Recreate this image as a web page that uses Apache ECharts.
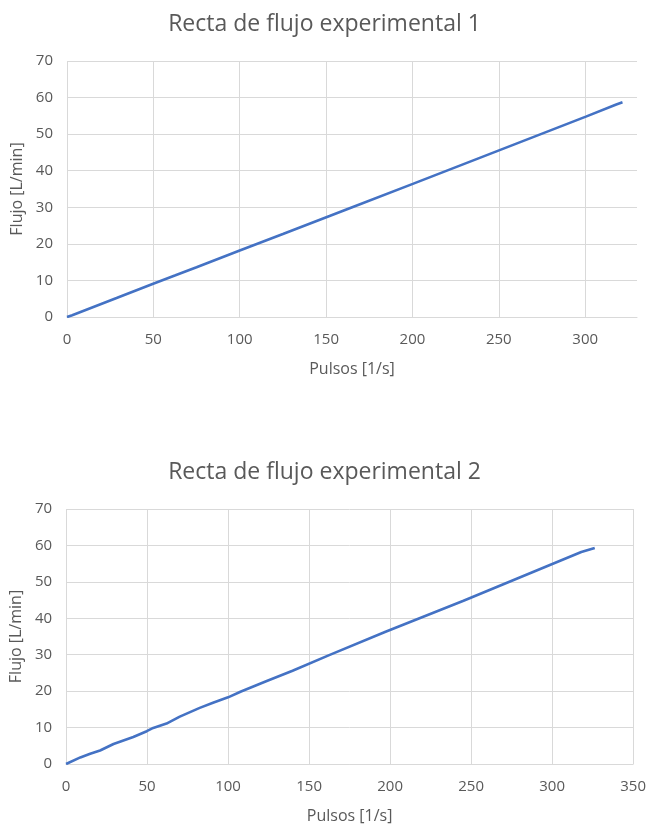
<!DOCTYPE html>
<html><head><meta charset="utf-8">
<script src="https://cdn.jsdelivr.net/npm/echarts@6/dist/echarts.min.js"></script>
<style>html,body{margin:0;padding:0;background:#fff}#c{width:649px;height:825px}</style>
</head><body><div id="c"></div>
<script>
var title1 = "Recta de flujo experimental 1";
var title2 = "Recta de flujo experimental 2";
var xName = "Pulsos [1/s]";
var yName = "Flujo [L/min]";
var pulsos1 = [0, 3, 28.7, 49.9, 62.8, 75, 100, 125, 152, 165.5, 200.2, 244.9, 300.4, 318, 321.6];
var flujo1  = [0, 0.5, 5.2, 9.1, 11.4, 13.6, 18.2, 22.7, 27.6, 30.1, 36.4, 44.6, 54.8, 58.1, 58.7];
var pulsos2 = [0, 8.8, 14.9, 21, 29.3, 41.5, 49.8, 53.8, 62, 70.2, 82.5, 90.7, 100, 108, 123.5, 139.8, 162.4, 197.2, 245.3, 318, 326.3];
var flujo2  = [0, 1.8, 2.8, 3.7, 5.5, 7.4, 9.0, 9.9, 11.1, 13.0, 15.4, 16.8, 18.3, 19.9, 22.7, 25.6, 29.9, 36.3, 44.8, 58.2, 59.3];
var xMax1 = 330, xMax2 = 350, yMax = 70;

function pairs(xs, ys){ return xs.map(function(x,i){return [x, ys[i]];}); }
var txt = '#595959', grid = '#d9d9d9', line = '#4472C4';
var font = 'Open Sans';
function xAxis(idx, max){
  return {type:'value', gridIndex: idx, min:0, max:max, interval:50,
    name: xName, nameLocation:'middle', nameGap: 44,
    nameTextStyle:{color:txt, fontSize:16, fontFamily:font},
    axisLine:{show:true, lineStyle:{color:grid}}, axisTick:{show:false},
    axisLabel:{color:txt, fontSize:15, fontFamily:font, margin:15,
      formatter:function(v){return v % 50 === 0 ? String(v) : '';}},
    splitLine:{show:true, showMaxLine: max % 50 === 0, lineStyle:{color:grid, width:1}}};
}
function yAxis(idx){
  return {type:'value', gridIndex: idx, min:0, max:yMax, interval:10,
    name: yName, nameLocation:'middle', nameGap: 38, nameRotate:90,
    nameTextStyle:{color:txt, fontSize:16, fontFamily:font},
    axisLine:{show:false}, axisTick:{show:false},
    axisLabel:{color:txt, fontSize:15, fontFamily:font, margin:14},
    splitLine:{show:true, lineStyle:{color:grid, width:1}}};
}
var chart = echarts.init(document.getElementById('c'), null, {renderer:'canvas'});
chart.setOption({
  animation:false,
  backgroundColor:'#fff',
  title:[
    {text:title1, left:'center', top:8, textStyle:{color:txt, fontSize:23, fontWeight:'normal', fontFamily:font}},
    {text:title2, left:'center', top:456, textStyle:{color:txt, fontSize:23, fontWeight:'normal', fontFamily:font}}
  ],
  grid:[
    {left:67, top:61, width:570, height:256},
    {left:66, top:509, width:569, height:256}
  ],
  xAxis:[xAxis(0, xMax1), xAxis(1, xMax2)],
  yAxis:[yAxis(0), yAxis(1)],
  series:[
    {type:'line', xAxisIndex:0, yAxisIndex:0, data:pairs(pulsos1, flujo1), showSymbol:false, lineStyle:{color:line, width:2.6}},
    {type:'line', xAxisIndex:1, yAxisIndex:1, data:pairs(pulsos2, flujo2), showSymbol:false, lineStyle:{color:line, width:2.6}}
  ]
});
</script></body></html>
